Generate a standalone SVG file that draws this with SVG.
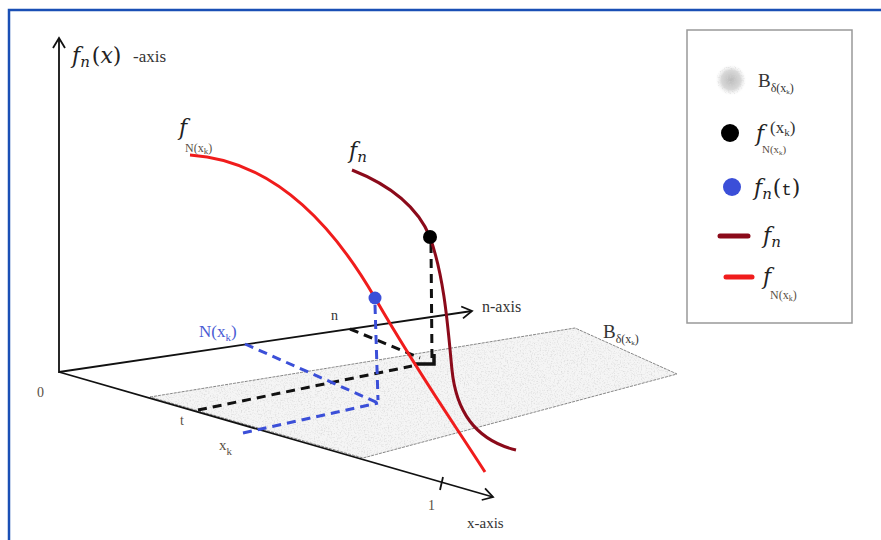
<svg xmlns="http://www.w3.org/2000/svg" width="881" height="540" viewBox="0 0 881 540">
<style>
.ax{stroke:#111;stroke-width:1.8;fill:none}
.it{font-family:"DejaVu Serif","Liberation Serif",serif;font-style:italic;fill:#222}
.rm{font-family:"Liberation Serif",serif;fill:#333}
.lbl{font-family:"Liberation Serif",serif;fill:#5a4f45}
.bdash{stroke:#111;stroke-width:3;stroke-dasharray:9,6;fill:none}
.udash{stroke:#3b4fd8;stroke-width:3;stroke-dasharray:9,6;fill:none}
</style>
<defs>
<marker id="arr" markerWidth="16" markerHeight="16" refX="13" refY="8" orient="auto" markerUnits="userSpaceOnUse">
<path d="M3,2 L13,8 L3,14" fill="none" stroke="#111" stroke-width="1.8"/>
</marker>
<filter id="noise" x="0" y="0" width="100%" height="100%">
<feTurbulence type="fractalNoise" baseFrequency="0.7" numOctaves="3" seed="4" result="t"/>
<feColorMatrix in="t" type="matrix" values="0 0 0 0 0.65 0 0 0 0 0.65 0 0 0 0 0.65 0 0 0 1.8 -0.85" result="c"/>
<feComposite in="c" in2="SourceGraphic" operator="in"/>
</filter>
<radialGradient id="blob">
<stop offset="0" stop-color="#bbb"/>
<stop offset="0.6" stop-color="#d8d8d8"/>
<stop offset="1" stop-color="#fff" stop-opacity="0"/>
</radialGradient>
</defs>
<rect width="881" height="540" fill="#fff"/>
<path d="M9,540 V10 H881" fill="none" stroke="#1a4fb5" stroke-width="2.5"/>

<g id="plane">
<polygon points="150,397 575,328 677,374 363,458" fill="#f5f5f5" stroke="#666" stroke-width="0.8" stroke-dasharray="3,1"/>
<polygon points="150,397 575,328 677,374 363,458" fill="#fff" filter="url(#noise)"/>
</g>

<g id="connectors">
<line class="ax" x1="59" y1="373" x2="59" y2="38" marker-end="url(#arr)"/>
<line class="ax" x1="59" y1="372" x2="472" y2="311" marker-end="url(#arr)"/>
<line class="ax" x1="59" y1="372" x2="493" y2="497" marker-end="url(#arr)"/>
<line class="ax" x1="443" y1="477" x2="440" y2="490"/>
<path class="bdash" d="M431,244 L432,360"/>
<path class="bdash" d="M350,329 L420,358"/>
<path d="M414,364 L434,364 L434,354" fill="none" stroke="#111" stroke-width="3.5"/>
<path class="bdash" d="M198,410 L412,366"/>
<path class="udash" d="M245,344 L378,403"/>
<path class="udash" d="M243,433 L378,403"/>
<path class="udash" d="M375,305 L378,400" stroke-dasharray="6,5"/>
</g>

<g id="curve-fN">
<path d="M190,155 C270,160 330,220 375,298 S455,425 485,472" fill="none" stroke="#f01c1c" stroke-width="3"/>
</g>
<g id="curve-fn">
<path d="M352,170 C390,185 418,208 430,237 C445,280 448,330 452,370 C456,410 475,440 516,450" fill="none" stroke="#8b0a1a" stroke-width="3"/>
</g>
<g id="point-black"><circle cx="430" cy="237" r="7" fill="#000"/></g>
<g id="point-blue"><circle cx="375" cy="298" r="6.5" fill="#3b4fd8"/></g>

<g id="labels">
<text x="72" y="63" class="it" font-size="22">f<tspan font-size="15" dy="4">n</tspan><tspan dy="-4" font-style="normal" dx="2">(</tspan>x<tspan font-style="normal">)</tspan></text>
<text x="133" y="62" class="rm" font-size="17">-axis</text>
<text x="179" y="135" class="it" font-size="22">f</text>
<text x="185" y="152" class="lbl" font-size="12">N(x<tspan font-size="9" dy="2">k</tspan><tspan dy="-2">)</tspan></text>
<text x="349" y="158" class="it" font-size="22">f<tspan font-size="15" dy="4">n</tspan></text>
<text x="482" y="312" class="rm" font-size="16">n-axis</text>
<text x="331" y="320" class="rm" font-size="14">n</text>
<text x="199" y="337" font-family="Liberation Serif,serif" font-size="17" fill="#4a5bd4">N(x<tspan font-size="11" dy="4">k</tspan><tspan dy="-4">)</tspan></text>
<text x="37" y="397" class="lbl" font-size="14">0</text>
<text x="180" y="425" class="lbl" font-size="14">t</text>
<text x="219" y="450" class="lbl" font-size="15">x<tspan font-size="11" dy="5">k</tspan></text>
<text x="428" y="510" class="lbl" font-size="14">1</text>
<text x="467" y="528" class="rm" font-size="15">x-axis</text>
<text x="603" y="338" class="rm" font-size="19">B<tspan font-size="12" dy="5">δ(x</tspan><tspan font-size="7" dy="2">k</tspan><tspan font-size="12" dy="-2">)</tspan></text>
</g>

<g id="legend">
<rect x="687" y="30" width="165" height="293" fill="#fff" stroke="#999" stroke-width="1.5"/>
<circle cx="731" cy="80" r="16" fill="url(#blob)"/>
<circle cx="731" cy="80" r="14" fill="#fff" filter="url(#noise)"/>
<text x="758" y="87" class="rm" font-size="19">B<tspan font-size="12" dy="5">δ(x</tspan><tspan font-size="7" dy="2">k</tspan><tspan font-size="12" dy="-2">)</tspan></text>
<circle cx="730" cy="133" r="9" fill="#000"/>
<text x="756" y="141" class="it" font-size="22">f</text>
<text x="770" y="133" class="rm" font-size="17">(x<tspan font-size="11" dy="3">k</tspan><tspan dy="-3">)</tspan></text>
<text x="762" y="153" class="lbl" font-size="11">N(x<tspan font-size="7" dy="2">k</tspan><tspan dy="-2">)</tspan></text>
<circle cx="732" cy="187" r="9" fill="#3b4fd8"/>
<text x="754" y="195" class="it" font-size="22">f<tspan font-size="15" dy="4">n</tspan><tspan dy="-4" font-style="normal" dx="1">(</tspan><tspan font-style="normal" font-family="Liberation Mono,monospace" font-size="17">t</tspan><tspan font-style="normal">)</tspan></text>
<line x1="720" y1="236" x2="748" y2="236" stroke="#8b0a1a" stroke-width="5" stroke-linecap="round"/>
<text x="763" y="243" class="it" font-size="22">f<tspan font-size="15" dy="4">n</tspan></text>
<line x1="726" y1="277" x2="752" y2="277" stroke="#f01c1c" stroke-width="5" stroke-linecap="round"/>
<text x="763" y="284" class="it" font-size="22">f</text>
<text x="770" y="299" class="lbl" font-size="12">N(x<tspan font-size="8" dy="2">k</tspan><tspan dy="-2">)</tspan></text>
</g>
</svg>
